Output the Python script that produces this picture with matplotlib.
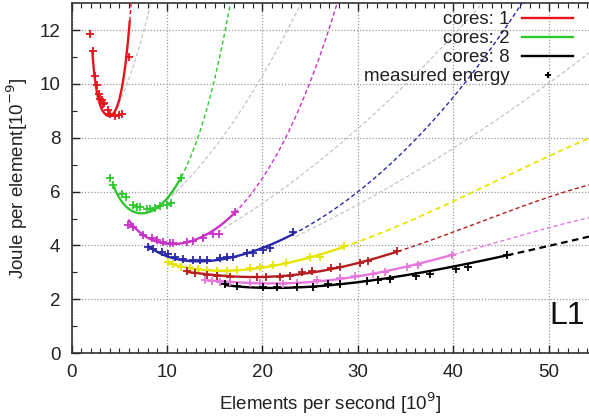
import numpy as np
import matplotlib
matplotlib.use("Agg")
import matplotlib.pyplot as plt
from matplotlib.lines import Line2D

plt.rcParams['font.family'] = ['Liberation Sans', 'DejaVu Sans']

# ---- data ----
series_names = ['cores: 1', 'cores: 2', 'cores: 3', 'cores: 4',
                'cores: 5', 'cores: 6', 'cores: 7', 'cores: 8']
series_colors = ['#e8141c', '#2ec82e', '#c832c8', '#2828a8',
                 '#e6e600', '#b41e1e', '#e678dc', '#000000']

# fitted energy model per series: E(x) = c0/x + c1 + c2*x + c3*x^2 + c4*x^3
fit_coef = [
    [74.9522, -63.7849, 27.9268, -5.04912, 0.358444],
    [29.9625, -4.67618, 1.30608, -0.109544, 0.00531533],
    [23.5877, -0.0943128, 0.229156, -0.012004, 0.000704219],
    [24.352, 0.333506, 0.0566186, 0.00216626, 4.44127e-05],
    [11.2226, 3.00868, -0.142402, 0.00722501, -5.4867e-05],
    [-17.9537, 7.99669, -0.429032, 0.012725, -9.76196e-05],
    [-26.6889, 8.56631, -0.423495, 0.0112036, -8.166e-05],
    [18.1844, 1.54091, -0.0462539, 0.00256815, -1.62481e-05],
]
# measured range (solid part of each fit)
fit_start = [2.18, 4.38, 6.0, 8.05, 10.07, 12.06, 13.98, 16.07]
fit_end = [6.1, 11.5, 17.1, 23.2, 28.5, 34.2, 40.0, 45.6]

# measured energy points
red_x = [1.93, 2.2, 2.46, 2.7, 2.88, 3.0, 3.16, 3.26, 3.4, 3.85, 4.03, 4.55, 5.0, 5.25, 6.05]
red_y = [11.85, 11.23, 10.3, 9.96, 9.63, 9.45, 9.4, 9.25, 9.28, 9.03, 8.88, 8.81, 8.85, 8.88, 11.0]
green_x = [4.03, 4.38, 5.25, 5.71, 6.4, 6.9, 7.17, 7.87, 8.2, 8.74, 9.27, 9.97, 10.4, 11.45]
green_y = [6.49, 6.25, 5.91, 5.79, 5.5, 5.42, 5.42, 5.34, 5.34, 5.38, 5.46, 5.5, 5.56, 6.52]
mag_x = [5.95, 6.47, 7.52, 8.4, 8.92, 9.6, 10.3, 10.66, 12.06, 12.75, 13.8, 14.85, 15.45, 17.1]
mag_y = [4.76, 4.67, 4.39, 4.26, 4.2, 4.14, 4.1, 4.1, 4.14, 4.17, 4.26, 4.41, 4.43, 5.25]
blue_x = [8.05, 8.57, 9.44, 10.1, 10.8, 11.7, 12.75, 13.46, 14.16, 15.55, 16.25, 16.9,
          18.35, 19.04, 20.1, 20.8, 23.2]
blue_y = [3.95, 3.87, 3.74, 3.68, 3.58, 3.48, 3.46, 3.46, 3.46, 3.52, 3.56, 3.58,
          3.7, 3.73, 3.83, 3.89, 4.51]
yel_x = [10.07, 10.66, 11.5, 12.4, 13.3, 14.2, 15.2, 16.25, 17.3, 18.7, 19.7, 21.1,
         22.5, 25.0, 26.0, 28.5]
yel_y = [3.37, 3.30, 3.21, 3.15, 3.11, 3.09, 3.06, 3.06, 3.09, 3.15, 3.21, 3.27,
         3.33, 3.56, 3.58, 3.98]
dred_x = [12.06, 12.9, 14.2, 15.2, 16.6, 19.4, 20.4, 21.8, 22.9, 24.1, 25.2, 27.2,
          28.1, 30.2, 31.1, 34.05]
dred_y = [3.05, 2.96, 2.9, 2.86, 2.84, 2.81, 2.81, 2.84, 2.86, 3.02, 3.05, 3.15,
          3.21, 3.36, 3.42, 3.79]
pink_x = [13.98, 14.68, 15.55, 16.6, 18.7, 19.7, 22.2, 23.6, 25.7, 28.1, 29.7, 31.6,
          32.8, 35.1, 36.3, 39.8]
pink_y = [2.71, 2.68, 2.65, 2.65, 2.59, 2.59, 2.57, 2.59, 2.7, 2.78, 2.86, 2.95,
          3.0, 3.18, 3.26, 3.66]
black_x = [16.07, 17.3, 20.1, 21.5, 23.6, 25.3, 26.9, 28.1, 30.9, 32.1, 33.4, 36.1,
           37.5, 40.3, 41.5, 45.6]
black_y = [2.55, 2.49, 2.44, 2.44, 2.44, 2.47, 2.55, 2.57, 2.66, 2.7, 2.76, 2.88,
           2.95, 3.12, 3.2, 3.64]
meas_x = [red_x, green_x, mag_x, blue_x, yel_x, dred_x, pink_x, black_x]
meas_y = [red_y, green_y, mag_y, blue_y, yel_y, dred_y, pink_y, black_y]

# grey alternative-model curves: E(x) = g0 + g1*x + g2*x^2
grey_coef = [
    [8.16197, -0.309839, 0.107506],
    [3.94368, 0.0294029, 0.0144514],
    [2.06958, 0.105852, 0.00344418],
    [1.18866, 0.0953822, 0.00163112],
]
grey_start = [4.4, 10.0, 14.8, 23.5]

x_max = 54.2
y_max = 13.0


def model(c, x):
    return c[0] / x + c[1] + c[2] * x + c[3] * x ** 2 + c[4] * x ** 3


# ---- figure ----
fig = plt.figure(figsize=(5.89, 4.18), dpi=100)
ax = fig.add_axes([71.5 / 589, 65 / 418, (589 - 71.5) / 589, 349.7 / 418])

dash = (0, (3, 2))
for i in range(4):
    g = grey_coef[i]
    xs = np.linspace(grey_start[i], x_max, 600)
    ys = g[0] + g[1] * xs + g[2] * xs ** 2
    m = ys <= y_max + 0.5
    ax.plot(xs[m], ys[m], color='#c4c4c4', lw=0.9, ls=dash, zorder=2)

for i in range(8):
    c = fit_coef[i]
    col = series_colors[i]
    xs = np.linspace(fit_start[i], fit_end[i], 300)
    ax.plot(xs, model(c, xs), color=col, lw=1.7, zorder=4, solid_capstyle='round')
    xd = np.linspace(fit_end[i], x_max, 800)
    yd = model(c, xd)
    m = np.cumsum(yd > y_max + 0.5) == 0
    ax.plot(xd[m], yd[m], color=col, lw=1.6 if i == 7 else (1.3 if i == 4 else 1.0),
            ls=dash, zorder=3)
    ax.plot(meas_x[i], meas_y[i], ls='none', marker='+', ms=6, mew=1.3,
            color=col, zorder=5)

ax.set_xlim(0, x_max)
ax.set_ylim(0, y_max)
ax.set_xticks([0, 10, 20, 30, 40, 50])
ax.set_yticks([0, 2, 4, 6, 8, 10, 12])
ax.set_xticks(np.arange(0, 55, 1), minor=True)
ax.set_yticks(np.arange(1, 13, 2), minor=True)
ax.tick_params(which='both', direction='in', top=True, right=False,
               labelsize=13.5, colors='#222222')
ax.tick_params(which='major', length=6, width=1.0, pad=8)
ax.tick_params(which='minor', length=3.5, width=0.8)
ax.spines['right'].set_visible(False)
for s in ('left', 'bottom', 'top'):
    ax.spines[s].set_linewidth(1.2)
    ax.spines[s].set_color('#333333')
ax.grid(True, which='major', color='#9a9a9a', ls=(0, (1, 1.5)), lw=0.9)
ax.set_axisbelow(True)

ax.set_xlabel('Elements per second [10$^{9}$]', fontsize=13.5, color='#222222', labelpad=7)
ax.set_ylabel('Joule per element[10$^{-9}$]', fontsize=13.5, color='#222222', labelpad=7)

ax.text(50.1, 1.08, 'L1', fontsize=23, color='#111111', ha='left', va='baseline')

handles = [Line2D([], [], color=series_colors[0], lw=1.7),
           Line2D([], [], color=series_colors[1], lw=1.7),
           Line2D([], [], color=series_colors[7], lw=1.7),
           Line2D([], [], color='black', ls='none', marker='+', ms=4, mew=1.4)]
labels = [series_names[0], series_names[1], series_names[7], 'measured energy']
leg = ax.legend(handles, labels, loc='upper right', bbox_to_anchor=(0.969, 0.977),
                frameon=False, markerfirst=False, fontsize=13.5, handlelength=2.7,
                handletextpad=0.7, labelspacing=0.1, borderpad=0, borderaxespad=0)
for t in leg.get_texts():
    t.set_color('#222222')

fig.savefig('out.png', dpi=100)
